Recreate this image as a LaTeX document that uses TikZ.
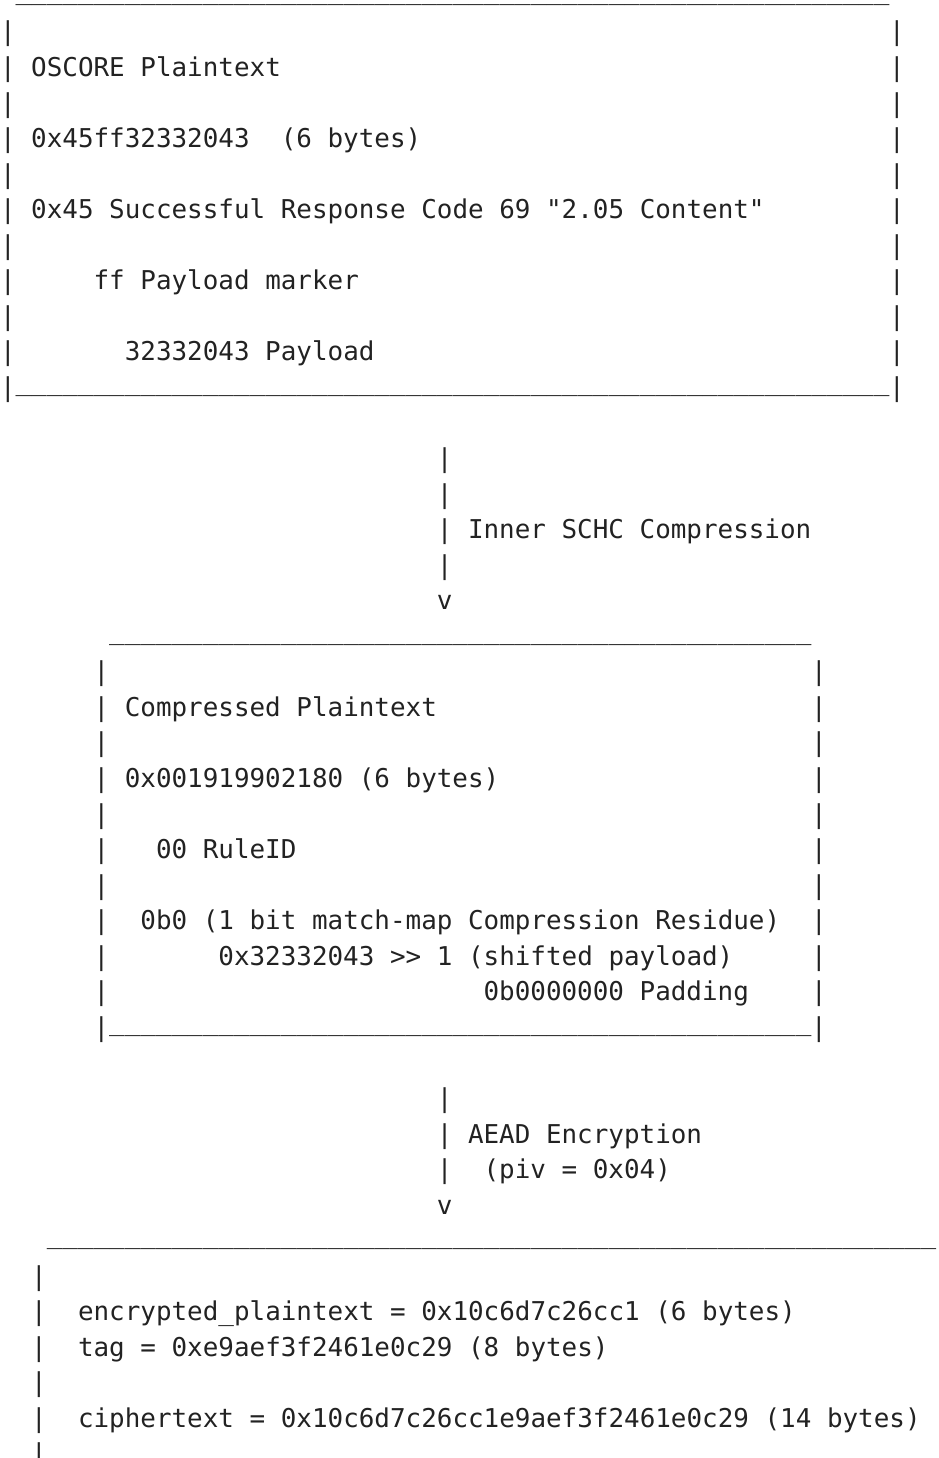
\documentclass[tikz,border=0pt]{standalone}
\usepackage{fontspec}
\setmonofont{DejaVu Sans Mono}
\usepackage{xcolor}
\usepackage{tikz}
\ExplSyntaxOn
\NewDocumentCommand \barrun { m } { \prg_replicate:nn {#1} { \_ } }
\ExplSyntaxOff
\definecolor{artink}{HTML}{222222}
\newcommand\artfont{\ttfamily\frenchspacing\fontsize{12.96pt}{17.78pt}\selectfont}
\tikzset{
  art/.style     = {anchor=base west, inner sep=0pt, outer sep=0pt,
                    text=artink, font=\artfont},
  artrule/.style = {art, yshift=3pt},
}

\begin{document}
\begin{tikzpicture}[x=7.8pt, y=-17.775pt]
\useasboundingbox (0,-0.152) rectangle (60.13,40.86);

% OSCORE plaintext box
\node[artrule] (plaintop) at (1,0)  {\barrun{56}};
\node[artrule] (plainbot) at (1,11) {\barrun{56}};
\foreach \r in {1,...,11} {
  \node[art] (plainL\r) at (0,\r) {|};
  \node[art] (plainR\r) at (57,\r) {|};
}
\node[art] (ptitle)   at (2,2)  {OSCORE Plaintext};
\node[art] (phex)     at (2,4)  {0x45ff32332043};
\node[art] (plen)     at (18,4) {(6 bytes)};
\node[art] (pcode)    at (2,6)  {0x45 Successful Response Code 69 "2.05 Content"};
\node[art] (pmarker)  at (6,8)  {ff Payload marker};
\node[art] (ppayload) at (8,10) {32332043 Payload};

% inner SCHC compression
\foreach \r in {13,...,16}
  \node[art] (schcbar\r) at (28,\r) {|};
\node[art] (schcv)   at (28,17) {v};
\node[art] (schclab) at (30,15) {Inner SCHC Compression};

% compressed plaintext box
\node[artrule] (comptop) at (7,18) {\barrun{45}};
\node[artrule] (compbot) at (7,29) {\barrun{45}};
\foreach \r in {19,...,29} {
  \node[art] (compL\r) at (6,\r)  {|};
  \node[art] (compR\r) at (52,\r) {|};
}
\node[art] (ctitle)   at (8,20)  {Compressed Plaintext};
\node[art] (cbytes)   at (8,22)  {0x001919902180 (6 bytes)};
\node[art] (crule)    at (10,24) {00 RuleID};
\node[art] (cresidue) at (9,26)  {0b0 (1 bit match-map Compression Residue)};
\node[art] (cshift)   at (14,27) {0x32332043 >> 1 (shifted payload)};
\node[art] (cpad)     at (31,28) {0b0000000 Padding};

% AEAD encryption
\foreach \r in {31,...,33}
  \node[art] (aeadbar\r) at (28,\r) {|};
\node[art] (aeadv)   at (28,34) {v};
\node[art] (aeadlab) at (30,32) {AEAD Encryption};
\node[art] (aeadpiv) at (31,33) {(piv = 0x04)};

% ciphertext box
\node[artrule] (ciphtop) at (3,35) {\barrun{57}};
\foreach \r in {36,...,41}
  \node[art] (ciphL\r) at (2,\r) {|};
\node[art] (cenc)  at (5,37) {encrypted\_plaintext = 0x10c6d7c26cc1 (6 bytes)};
\node[art] (ctag)  at (5,38) {tag = 0xe9aef3f2461e0c29 (8 bytes)};
\node[art] (cciph) at (5,40) {ciphertext = 0x10c6d7c26cc1e9aef3f2461e0c29 (14 bytes)};
\end{tikzpicture}
\end{document}
